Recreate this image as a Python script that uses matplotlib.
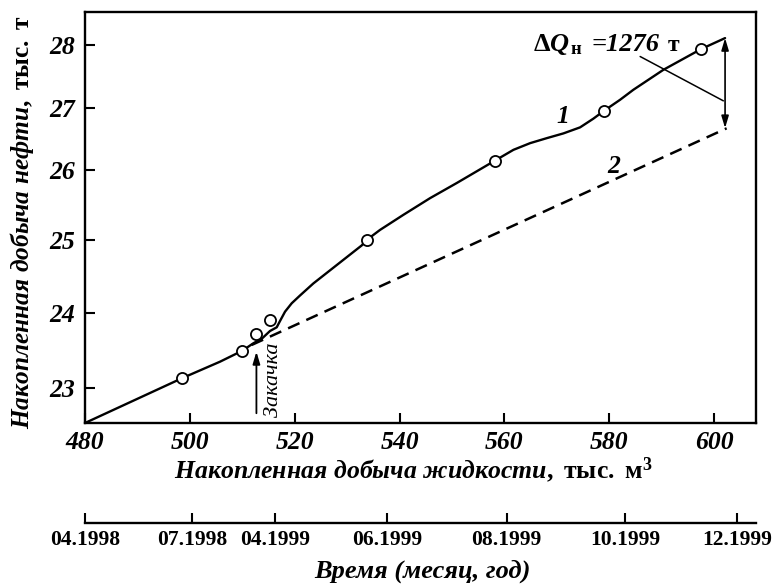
import numpy as np
import matplotlib
matplotlib.use('Agg')
import matplotlib.pyplot as plt
from matplotlib.offsetbox import TextArea, HPacker, AnnotationBbox

plt.rcParams['font.family'] = ['Liberation Serif', 'DejaVu Serif']
plt.rcParams['mathtext.fontset'] = 'custom'
plt.rcParams['mathtext.rm'] = 'Liberation Serif:bold'
plt.rcParams['mathtext.it'] = 'Liberation Serif:bold:italic'
plt.rcParams['mathtext.bf'] = 'Liberation Serif:bold'

# ---------------- data ----------------
curve1_x = [480.0, 498.45, 505.76, 510.01, 512.11, 513.77, 515.29, 516.57, 517.20,
            518.16, 519.43, 521.02, 523.55, 528.65, 532.79, 533.74, 536.28, 540.72,
            545.82, 550.97, 558.22, 561.73, 564.92, 568.08, 571.27, 574.44, 576.97,
            579.07, 582.06, 584.60, 590.33, 597.52, 602.10]
curve1_y = [22.53, 23.125, 23.347, 23.493, 23.592, 23.656, 23.756, 23.805, 23.889,
            24.014, 24.130, 24.238, 24.404, 24.695, 24.931, 25.007, 25.149, 25.362,
            25.599, 25.816, 26.150, 26.323, 26.431, 26.511, 26.588, 26.685, 26.825,
            26.956, 27.127, 27.286, 27.603, 27.932, 28.106]
points_x = [498.45, 510.01, 512.62, 515.29, 533.74, 558.22, 579.07, 597.52]
points_y = [23.125, 23.493, 23.716, 23.903, 25.007, 26.150, 26.956, 27.932]
trend_x = [511.8, 602.4]
trend_y = [23.57, 26.67]

x_ticks = [480, 500, 520, 540, 560, 580, 600]
y_ticks = [23, 24, 25, 26, 27, 28]
time_labels = ['04.1998', '07.1998', '04.1999', '06.1999', '08.1999', '10.1999', '12.1999']
time_pos = [480.0, 500.4, 516.25, 537.67, 560.41, 583.02, 604.39]

dq_x = 602.1
dq_top = 28.106
dq_bottom = 26.673
inj_x = 512.7

# -------------- non-uniform y scale of the original drawing --------------
Y_NODES = np.array([20.0, 23, 24, 25, 26, 27, 28, 31.0])
Y_PIX = np.array([387.7 + 3 * 75, 387.7, 312.7, 240.5, 170, 108, 45, 45 - 3 * 63])


def y_fwd(v):
    return -np.interp(np.asarray(v, dtype=float), Y_NODES, Y_PIX)


def y_inv(p):
    return np.interp(-np.asarray(p, dtype=float), Y_PIX[::-1], Y_NODES[::-1])


W, H = 773, 585
fig = plt.figure(figsize=(W / 100, H / 100), dpi=100)
L, R, T, B = 85, 756, 12, 423
ax = fig.add_axes([L / W, 1 - B / H, (R - L) / W, (B - T) / H])
ax.set_yscale('function', functions=(y_fwd, y_inv))
ax.set_xlim(480, 608)
ax.set_ylim(22.53, 28.52)

ax.plot(curve1_x, curve1_y, color='black', lw=1.7, solid_capstyle='round', solid_joinstyle='round')
ax.plot(trend_x, trend_y, color='black', lw=1.8, dashes=(5, 3))
ax.plot(points_x, points_y, linestyle='none', marker='o', markersize=8,
        markerfacecolor='white', markeredgecolor='black', markeredgewidth=1.3, zorder=5)

for s in ax.spines.values():
    s.set_linewidth(1.7)

ax.set_xticks(x_ticks)
ax.set_xticklabels([str(t) for t in x_ticks], fontsize=18.5, fontweight='bold', fontstyle='italic')
ax.set_yticks(y_ticks)
ax.set_yticklabels([str(t) for t in y_ticks], fontsize=18.5, fontweight='bold', fontstyle='italic')
ax.yaxis.set_minor_locator(matplotlib.ticker.NullLocator())
ax.tick_params(axis='both', direction='in', length=7, width=1.5, top=False, right=False)
ax.tick_params(axis='x', pad=6)
ax.tick_params(axis='y', pad=7)

ax.set_xlabel(r'$\mathit{Накопленная\ добыча\ жидкости},\ \mathrm{тыс.\ м}^{3}$',
              fontsize=18.5, va='center', ha='center')
ax.xaxis.set_label_coords((413 - L) / (R - L), -(470 - B) / (B - T))
ax.set_ylabel(r'$\mathit{Накопленная\ добыча\ нефти},\ \mathrm{тыс.\ т}$',
              fontsize=18.3, va='center', ha='center')
ax.yaxis.set_label_coords((22 - L) / (R - L), (B - 222.5) / (B - T))

# curve labels
ax.text(571.2, 26.86, '1', fontsize=18.5, fontweight='bold', fontstyle='italic', ha='center', va='center')
ax.text(580.8, 26.053, '2', fontsize=18.5, fontweight='bold', fontstyle='italic', ha='center', va='center')

# delta Q annotation
ax.annotate('', xy=(dq_x, dq_top), xytext=(dq_x, dq_bottom),
            arrowprops=dict(arrowstyle='<|-|>,head_length=0.6,head_width=0.18', color='black',
                            lw=1.2, mutation_scale=12, shrinkA=0, shrinkB=0))
ax.annotate('', xy=(601.77, 27.111), xytext=(585.9, 27.814),
            arrowprops=dict(arrowstyle='-', color='black', lw=1.1, shrinkA=0, shrinkB=0))
dq_parts = [
    TextArea(r'$\Delta\mathit{Q}_{\,\mathrm{н}}$', textprops=dict(fontsize=19)),
    TextArea('=1276', textprops=dict(fontsize=19, fontweight='bold', fontstyle='italic')),
    TextArea('т', textprops=dict(fontsize=17, fontweight='bold')),
]
dq_box = HPacker(children=dq_parts, align='baseline', pad=0, sep=6)
ax.add_artist(AnnotationBbox(dq_box, (565.5, 27.80), xycoords='data', box_alignment=(0, 0),
                             frameon=False, pad=0))

# injection marker
ax.annotate('', xy=(inj_x, 23.48), xytext=(inj_x, 22.66),
            arrowprops=dict(arrowstyle='-|>,head_length=0.6,head_width=0.18', color='black',
                            lw=1.3, mutation_scale=12, shrinkA=0, shrinkB=0))
ax.text(515.9, 23.10, 'Закачка', fontsize=16, fontstyle='italic', rotation=90,
        ha='center', va='center')

# time axis
TY = 522.7
ax2 = fig.add_axes([L / W, 1 - TY / H, (R - L) / W, 0.001])
ax2.set_facecolor('none')
for k in ('top', 'left', 'right'):
    ax2.spines[k].set_visible(False)
ax2.spines['bottom'].set_linewidth(1.7)
ax2.set_xlim(480, 608)
ax2.set_yticks([])
ax2.set_xticks(time_pos)
ax2.set_xticklabels(time_labels, fontsize=15.5, fontweight='bold')
ax2.tick_params(axis='x', direction='in', length=7, width=1.5, pad=5)
fig.text(422 / W, 1 - 571 / H, 'Время (месяц, год)', fontsize=19, fontweight='bold',
         fontstyle='italic', ha='center', va='center')

fig.savefig('out.png', dpi=100)
